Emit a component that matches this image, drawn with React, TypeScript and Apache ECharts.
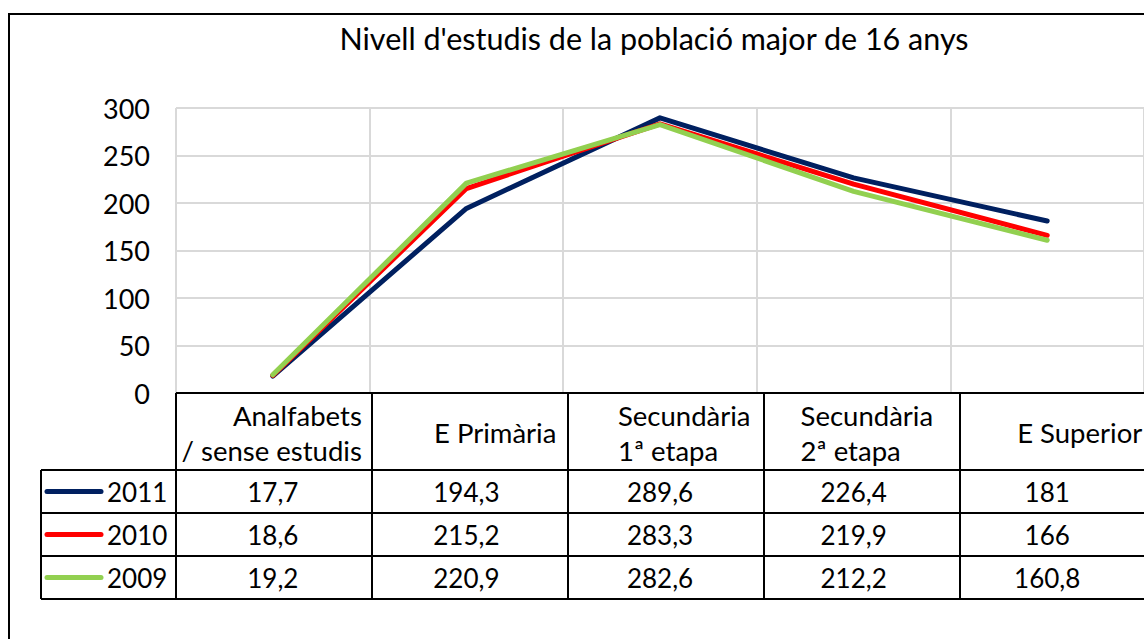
import React, { useEffect, useRef } from "react";
import * as echarts from "echarts";

const categories = ["Analfabets\n/ sense estudis", "E Primària", "Secundària\n1ª etapa", "Secundària\n2ª etapa", "E Superior"];
const years = ["2011", "2010", "2009"];
const values2011 = [17.7, 194.3, 289.6, 226.4, 181];
const values2010 = [18.6, 215.2, 283.3, 219.9, 166];
const values2009 = [19.2, 220.9, 282.6, 212.2, 160.8];
const seriesValues = [values2011, values2010, values2009];
const titleText = "Nivell d'estudis de la població major de 16 anys";

const colors = ["#002060", "#ff0000", "#92d050"];
const FONT = "Lato, 'Open Sans', sans-serif";
const GRID = { left: 176, top: 108, width: 980, height: 285 };
const ROW_H = 43;
const HEADER_BOTTOM = 470;
const LEGEND_LEFT = 41;
const headerAlign = ["right", "right", "left", "left", "left"];
const headerShift = [89, 90, -42, -53, -30];

const fmt = (v: number) => String(v).replace(".", ",");

export default function App() {
  const ref = useRef<HTMLDivElement>(null);
  useEffect(() => {
    document.body.style.margin = "0";
    const chart = echarts.init(ref.current!, null, { renderer: "svg" });
    const option: any = {
      animation: false,
      backgroundColor: "#fff",
      grid: { ...GRID },
      xAxis: {
        type: "category",
        data: categories,
        boundaryGap: true,
        axisLabel: { show: false },
        axisTick: { show: false },
        axisLine: { show: false },
        splitLine: { show: true, lineStyle: { color: "#d9d9d9", width: 2 } },
      },
      yAxis: {
        type: "value",
        min: 0,
        max: 300,
        interval: 50,
        axisLine: { show: false },
        axisTick: { show: false },
        axisLabel: { color: "#000", fontSize: 27, fontFamily: FONT, margin: 26 },
        splitLine: { lineStyle: { color: "#d9d9d9", width: 2 } },
      },
      series: years.map((y, i) => ({
        name: y,
        type: "line",
        data: seriesValues[i],
        symbol: "none",
        lineStyle: { color: colors[i], width: 5, cap: "round", join: "round" },
        z: 2 + i,
      })),
    };
    chart.setOption(option);

    const plotTop = GRID.top + GRID.height;
    const gridRight = GRID.left + GRID.width;
    const colW = GRID.width / categories.length;
    const centers = categories.map((_, i) => chart.convertToPixel({ xAxisIndex: 0 }, i) as number);
    const tableBottom = HEADER_BOTTOM + ROW_H * years.length;
    const els: any[] = [];
    const line = (x1: number, y1: number, x2: number, y2: number) =>
      els.push({ type: "line", shape: { x1, y1, x2, y2 }, style: { stroke: "#000", lineWidth: 2 }, z: 10 });

    // outer border
    els.push({ type: "rect", shape: { x: 9, y: 14, width: 1300, height: 800 }, style: { fill: "none", stroke: "#000", lineWidth: 2 }, z: 10 });
    // title
    els.push({
      type: "text", x: 654, y: 38, z: 10,
      style: { text: titleText, font: `30.5px ${FONT}`, fill: "#000", align: "center", verticalAlign: "middle" },
    });
    // table horizontal lines
    line(GRID.left, plotTop, gridRight + 20, plotTop);
    for (let r = 0; r <= years.length; r++) {
      const y = HEADER_BOTTOM + r * ROW_H;
      line(LEGEND_LEFT, y, gridRight + 20, y);
    }
    // vertical lines
    line(LEGEND_LEFT, HEADER_BOTTOM, LEGEND_LEFT, tableBottom);
    for (let c = 0; c <= categories.length; c++) {
      const x = GRID.left + c * colW;
      line(x, plotTop, x, tableBottom);
    }
    // header labels
    categories.forEach((cat, i) => {
      els.push({
        type: "text", x: centers[i] + headerShift[i], y: (plotTop + HEADER_BOTTOM) / 2 + 1, z: 11,
        style: { text: cat, font: `27.5px ${FONT}`, fill: "#000", align: headerAlign[i], verticalAlign: "middle", lineHeight: 35 },
      });
    });
    // rows
    years.forEach((yr, r) => {
      const cy = HEADER_BOTTOM + r * ROW_H + ROW_H / 2;
      els.push({ type: "line", shape: { x1: 47, y1: cy, x2: 101, y2: cy }, style: { stroke: colors[r], lineWidth: 5, lineCap: "round" }, z: 11 });
      els.push({ type: "text", x: 107, y: cy, z: 11, style: { text: yr, font: `26px ${FONT}`, fill: "#000", align: "left", verticalAlign: "middle" } });
      seriesValues[r].forEach((v, i) => {
        els.push({ type: "text", x: centers[i], y: cy, z: 11, style: { text: fmt(v), font: `26px ${FONT}`, fill: "#000", align: "center", verticalAlign: "middle" } });
      });
    });
    chart.setOption({ graphic: { elements: els } });
    return () => chart.dispose();
  }, []);
  return <div ref={ref} style={{ width: 1144, height: 639, overflow: "hidden" }} />;
}
